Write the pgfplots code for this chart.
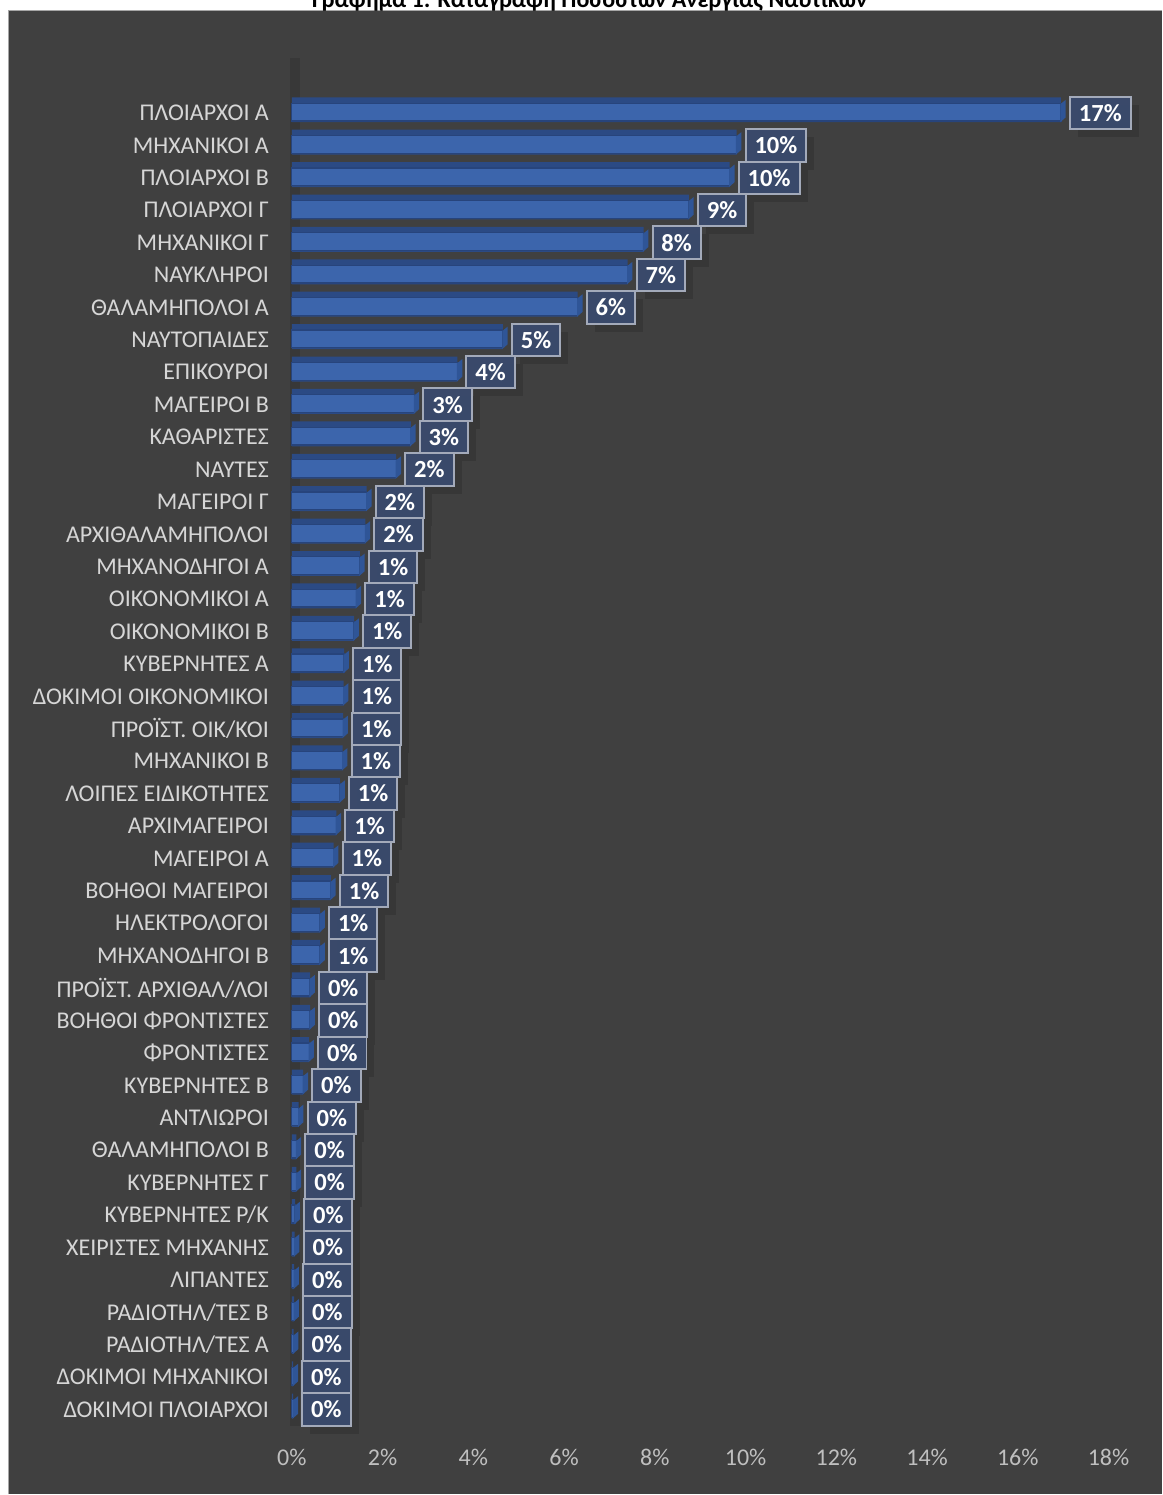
\documentclass[border=0pt]{standalone}
\usepackage{pgfplots}
\usepackage{pgfplotstable}
\pgfplotsset{compat=1.18}
\usetikzlibrary{shadows}
\usepackage{fontspec}
\setmainfont{Carlito}
\definecolor{bg}{HTML}{404040}
\definecolor{bordergrey}{HTML}{A6A6A6}
\definecolor{wallc}{HTML}{383838}
\definecolor{bartop}{HTML}{2B4A84}
\definecolor{barfront}{HTML}{3C65AC}
\definecolor{baredge}{HTML}{27447C}
\definecolor{barside}{HTML}{2F5597}
\definecolor{boxfill}{HTML}{3A4A6D}
\definecolor{boxborder}{HTML}{A3AABA}
\definecolor{cattext}{HTML}{D6D6D6}
\definecolor{ticktext}{HTML}{BFBFBF}

\pgfdeclareplotmark{side3d}{%
  \pgfpathmoveto{\pgfqpoint{-0.3pt}{-4.6pt}}%
  \pgfpathlineto{\pgfqpoint{2.4pt}{-2.2pt}}%
  \pgfpathlineto{\pgfqpoint{2.4pt}{6.6pt}}%
  \pgfpathlineto{\pgfqpoint{-0.3pt}{4.4pt}}%
  \pgfpathclose
  \pgfusepath{fill}}

\pgfplotstableread{
idx val lab
0 16.95 17
1 9.80 10
2 9.65 10
3 8.75 9
4 7.75 8
5 7.40 7
6 6.30 6
7 4.65 5
8 3.65 4
9 2.70 3
10 2.62 3
11 2.30 2
12 1.65 2
13 1.62 2
14 1.50 1
15 1.42 1
16 1.37 1
17 1.15 1
18 1.14 1
19 1.13 1
20 1.12 1
21 1.06 1
22 0.98 1
23 0.92 1
24 0.86 1
25 0.62 1
26 0.62 1
27 0.40 0
28 0.40 0
29 0.38 0
30 0.25 0
31 0.15 0
32 0.10 0
33 0.10 0
34 0.07 0
35 0.06 0
36 0.05 0
37 0.05 0
38 0.04 0
39 0.03 0
40 0.03 0
}\datatable

\begin{document}
\begin{tikzpicture}[x=1pt,y=1pt]
\fill[white] (0,0) rectangle (581,747.5);
\fill[bg] (4,0) rectangle (581,742.5);
\draw[bordergrey, line width=0.6pt] (4.3,0) -- (4.3,742.2) -- (581,742.2);
\begin{pgfinterruptboundingbox}
\node[anchor=base, inner sep=0pt, font=\fontsize{12}{14}\selectfont\bfseries] at (295,743.5) {Γράφημα 1: Καταγραφή Ποσοστών Ανεργίας Ναυτικών};
\end{pgfinterruptboundingbox}
\begin{axis}[
  at={(146pt,26.3pt)}, anchor=south west,
  scale only axis, width=408.5pt, height=680.9pt,
  xmin=0, xmax=18, ymin=-1, ymax=41, y dir=reverse,
  axis line style={draw=none},
  major tick length=0pt,
  /pgf/number format/assume math mode=true,
  xtick={0,2,...,18},
  xticklabel={\pgfmathprintnumber{\tick}\%},
  xticklabel style={text=ticktext, font=\fontsize{12}{14}\selectfont, anchor=north, yshift=0pt},
  ytick={0,...,40},
  yticklabels={ΠΛΟΙΑΡΧΟΙ Α,ΜΗΧΑΝΙΚΟΙ Α,ΠΛΟΙΑΡΧΟΙ Β,ΠΛΟΙΑΡΧΟΙ Γ,ΜΗΧΑΝΙΚΟΙ Γ,ΝΑΥΚΛΗΡΟΙ,ΘΑΛΑΜΗΠΟΛΟΙ Α,ΝΑΥΤΟΠΑΙΔΕΣ,ΕΠΙΚΟΥΡΟΙ,ΜΑΓΕΙΡΟΙ Β,ΚΑΘΑΡΙΣΤΕΣ,ΝΑΥΤΕΣ,ΜΑΓΕΙΡΟΙ Γ,ΑΡΧΙΘΑΛΑΜΗΠΟΛΟΙ,ΜΗΧΑΝΟΔΗΓΟΙ Α,ΟΙΚΟΝΟΜΙΚΟΙ Α,ΟΙΚΟΝΟΜΙΚΟΙ Β,ΚΥΒΕΡΝΗΤΕΣ Α,ΔΟΚΙΜΟΙ ΟΙΚΟΝΟΜΙΚΟΙ,ΠΡΟΪΣΤ. ΟΙΚ/ΚΟΙ,ΜΗΧΑΝΙΚΟΙ Β,ΛΟΙΠΕΣ ΕΙΔΙΚΟΤΗΤΕΣ,ΑΡΧΙΜΑΓΕΙΡΟΙ,ΜΑΓΕΙΡΟΙ Α,ΒΟΗΘΟΙ ΜΑΓΕΙΡΟΙ,ΗΛΕΚΤΡΟΛΟΓΟΙ,ΜΗΧΑΝΟΔΗΓΟΙ Β,ΠΡΟΪΣΤ. ΑΡΧΙΘΑΛ/ΛΟΙ,ΒΟΗΘΟΙ ΦΡΟΝΤΙΣΤΕΣ,ΦΡΟΝΤΙΣΤΕΣ,ΚΥΒΕΡΝΗΤΕΣ Β,ΑΝΤΛΙΩΡΟΙ,ΘΑΛΑΜΗΠΟΛΟΙ Β,ΚΥΒΕΡΝΗΤΕΣ Γ,ΚΥΒΕΡΝΗΤΕΣ Ρ/Κ,ΧΕΙΡΙΣΤΕΣ ΜΗΧΑΝΗΣ,ΛΙΠΑΝΤΕΣ,ΡΑΔΙΟΤΗΛ/ΤΕΣ Β,ΡΑΔΙΟΤΗΛ/ΤΕΣ Α,ΔΟΚΙΜΟΙ ΜΗΧΑΝΙΚΟΙ,ΔΟΚΙΜΟΙ ΠΛΟΙΑΡΧΟΙ},
  yticklabel style={text=cattext, font=\fontsize{12}{14}\selectfont, anchor=east, xshift=-8pt},
  clip=false,
  xbar,
]
\fill[wallc] (axis cs:-0.05,-1.7) rectangle (axis cs:0.18,40.5);
\addplot[xbar, bar width=0.77, bar shift=-0.1, fill=bartop, draw=none]
  table[x=val, y=idx] {\datatable};
\addplot[xbar, bar width=0.55, bar shift=-0.03, fill=barfront, draw=baredge, line width=0.6pt]
  table[x=val, y=idx] {\datatable};
\addplot[only marks, mark=side3d, mark options={fill=barside, draw=none},
  point meta=\thisrow{lab},
  nodes near coords={\pgfmathprintnumber[fixed,precision=0]{\pgfplotspointmeta}\%},
  nodes near coords style={anchor=west, xshift=4pt, fill=boxfill, fill opacity=0.95, text opacity=1, draw=boxborder, line width=1pt,
    text=white, font=\fontsize{12.3}{14}\selectfont\bfseries, minimum height=16.2pt,
    inner xsep=4.5pt, inner ysep=0pt,
    drop shadow={shadow xshift=4pt, shadow yshift=-4pt, opacity=0.13, fill=black, draw=none}}]
  table[x=val, y=idx, meta=lab] {\datatable};
\end{axis}
\end{tikzpicture}
\end{document}
